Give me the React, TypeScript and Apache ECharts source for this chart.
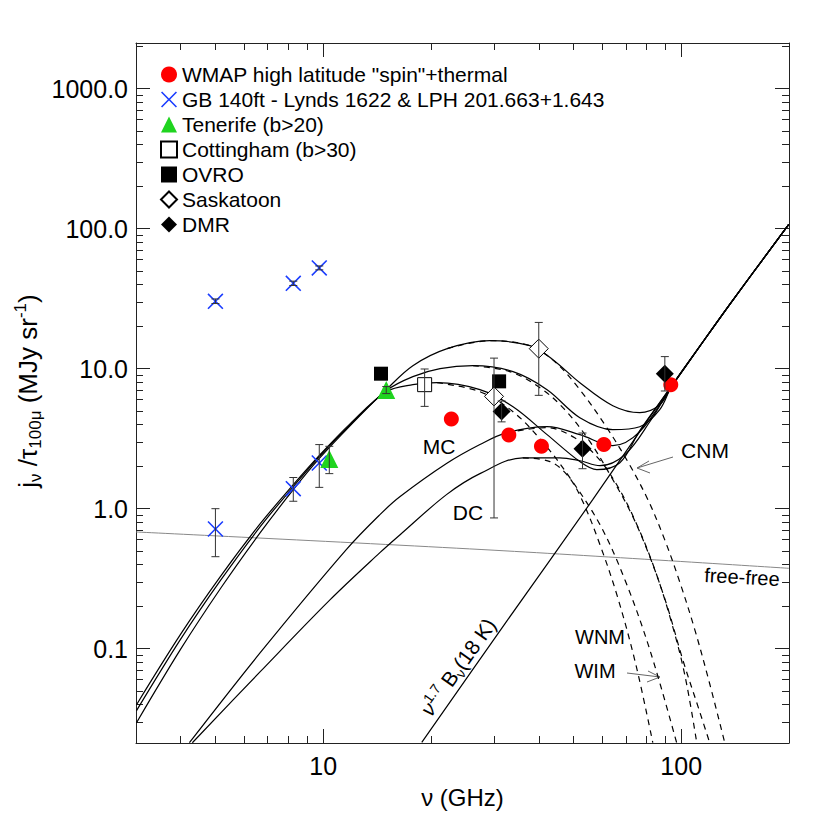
import React, { useEffect, useRef } from "react";
import * as echarts from "echarts";

const FONT = "'Liberation Sans', Arial, Helvetica, sans-serif";
const X_MIN = 3;
const X_MAX = 200;
const Y_MIN = 0.0212;
const Y_MAX = 2120;
const xMajor = [10, 100];
const xMinor = [4, 5, 6, 7, 8, 9, 20, 30, 40, 50, 60, 70, 80, 90];
const yMajor = [0.1, 1, 10, 100, 1000];
const yMinor = [0.03, 0.04, 0.05, 0.06, 0.07, 0.08, 0.09, 0.2, 0.3, 0.4, 0.5, 0.6, 0.7, 0.8, 0.9, 2, 3, 4, 5, 6, 7, 8, 9, 20, 30, 40, 50, 60, 70, 80, 90, 200, 300, 400, 500, 600, 700, 800, 900, 2000];

const legendNames = [
  'WMAP high latitude "spin"+thermal',
  "GB 140ft - Lynds 1622 & LPH 201.663+1.643",
  "Tenerife (b>20)",
  "Cottingham (b>30)",
  "OVRO",
  "Saskatoon",
  "DMR",
];

// measurements: [freq GHz, value]
const wmap = [[22.8, 4.37], [33.0, 3.36], [40.7, 2.79], [60.8, 2.87], [93.5, 7.69]];
const gb = [[5.0, 30.3], [8.25, 40.7], [9.75, 52.4], [5.0, 0.716], [8.25, 1.39], [9.75, 2.12]];
const gbErr = [[5.0, 29.2, 31.5], [8.25, 39.3, 42.2], [9.75, 50.8, 54.2], [5.0, 0.454, 1.0], [8.25, 1.13, 1.67], [9.75, 1.42, 2.87]];
const tenerife = [[10.4, 2.26], [15.0, 7.05]];
const tenerifeErr = [[10.4, 1.78, 2.79], [15.0, 6.64, 7.45]];
const cottingham = [[19.2, 7.69]];
const cottinghamErr = [[19.2, 5.38, 9.95]];
const ovro = [[14.5, 9.21], [31.0, 8.12]];
const saskatoon = [[30.0, 6.34], [40.0, 13.9]];
const saskatoonErr = [[30.0, 0.859, 11.9], [40.0, 6.45, 21.4]];
const dmr = [[31.5, 4.95], [53.0, 2.68], [90.0, 9.21]];
const dmrErr = [[31.5, 4.17, 5.88], [53.0, 1.93, 3.47], [90.0, 6.93, 12.2]];

// model curves: [freq GHz, value]
const thermal = [[18.85, 0.0214], [32.6, 0.158], [56.6, 1.16], [91.1, 6.74], [136.5, 28.7], [199.5, 106.8]];
const freeFree = [[3.0, 0.682], [30.0, 0.505], [200, 0.375]];
const totalA = [[3.01, 0.0296], [3.99, 0.0984], [5.16, 0.268], [6.67, 0.674], [8.25, 1.367], [9.74, 2.275], [11.9, 3.92], [15.0, 7.08], [17.8, 10.5], [22.2, 13.9], [29.2, 15.85], [37.8, 14.6], [43.8, 11.6], [52.1, 7.94], [64.4, 5.44], [76.6, 4.85], [87.1, 5.53], [94.1, 7.5], [112.6, 14.4], [136.5, 28.7], [199.5, 106.8]];
const totalB = [[3.01, 0.0361], [3.99, 0.116], [5.16, 0.306], [6.67, 0.744], [8.25, 1.436], [9.74, 2.35], [11.9, 3.98], [15.0, 6.96], [17.8, 8.77], [21.2, 10.0], [26.2, 10.5], [33.9, 9.52], [42.2, 7.08], [52.1, 4.47], [64.4, 3.67], [76.6, 3.85], [87.1, 5.1], [94.1, 7.5], [112.6, 14.4], [136.5, 28.7], [199.5, 106.8]];
const totalC = [[3.01, 0.0398], [3.99, 0.126], [5.16, 0.327], [6.67, 0.781], [8.25, 1.484], [9.74, 2.39], [11.9, 4.05], [15.0, 6.85], [17.8, 7.69], [20.8, 7.94], [27.4, 7.08], [33.9, 5.35], [42.2, 3.38], [52.1, 2.17], [58.1, 1.9], [67.4, 2.13], [76.6, 3.61], [94.1, 7.5], [112.6, 14.4], [136.5, 28.7], [199.5, 106.8]];
const totalMC = [[4.23, 0.0213], [6.67, 0.0936], [11.6, 0.51], [14.4, 0.906], [16.4, 1.22], [22.1, 2.1], [27.4, 2.87], [32.6, 3.49], [42.2, 3.85], [52.1, 3.38], [64.4, 2.82], [76.6, 3.55], [94.1, 7.5], [112.6, 14.4], [136.5, 28.7], [199.5, 106.8]];
const totalDC = [[4.31, 0.0213], [6.67, 0.0685], [10.46, 0.224], [14.4, 0.485], [16.4, 0.652], [22.1, 1.26], [27.4, 1.78], [36.1, 2.31], [45.8, 2.31], [52.1, 2.2], [59.3, 2.03], [69.6, 2.43], [81.7, 4.18], [94.1, 7.5], [112.6, 14.4], [136.5, 28.7], [199.5, 106.8]];
const spinA = [[22.2, 13.9], [29.2, 15.85], [37.8, 14.6], [44.4, 11.2], [52.1, 7.08], [61.2, 3.98], [70.9, 2.17], [80.7, 1.16], [89.9, 0.601], [99.0, 0.301], [109.1, 0.137], [120.1, 0.0562], [132.3, 0.0213]];
const spinB = [[26.2, 10.5], [33.2, 9.52], [40.3, 7.32], [47.3, 5.1], [55.6, 3.01], [64.0, 1.66], [72.8, 0.906], [81.7, 0.454], [91.1, 0.206], [101.0, 0.0834], [112.6, 0.0355], [120.1, 0.0213]];
const spinC = [[20.8, 7.94], [27.4, 6.85], [33.9, 4.93], [41.6, 2.87], [48.9, 1.66], [59.3, 0.769], [69.6, 0.311], [81.7, 0.0984], [97.1, 0.0213]];
const spinMC = [[32.6, 3.49], [42.2, 3.79], [50.4, 3.21], [58.5, 2.31], [66.5, 1.44], [75.2, 0.769], [84.4, 0.367], [93.5, 0.161], [102.3, 0.0652], [110.5, 0.0213]];
const spinDC = [[36.1, 2.31], [43.0, 2.17], [48.2, 1.72], [52.8, 1.16], [59.3, 0.553], [66.5, 0.231], [74.7, 0.0769], [83.3, 0.0213]];

const X_PATH = "path://M0,0.7 L0.7,0 L5,4.3 L9.3,0 L10,0.7 L5.7,5 L10,9.3 L9.3,10 L5,5.7 L0.7,10 L0,9.3 L4.3,5 Z";

function axisSet(kind: "x" | "y") {
  const min = kind === "x" ? X_MIN : Y_MIN;
  const max = kind === "x" ? X_MAX : Y_MAX;
  const major = kind === "x" ? xMajor : yMajor;
  const minor = kind === "x" ? xMinor : yMinor;
  const positions = kind === "x" ? ["bottom", "top"] : ["left", "right"];
  const out: any[] = [];
  positions.forEach((pos, pi) => {
    [true, false].forEach((isMajor) => {
      const axis: any = {
        type: "log",
        logBase: 10,
        min,
        max,
        position: pos,
        splitLine: { show: false },
        minorTick: { show: false },
        axisLine: { show: isMajor, lineStyle: { color: "#222", width: 1 } },
        axisTick: {
          show: true,
          inside: true,
          length: isMajor ? 14 : 7,
          customValues: isMajor ? major : minor,
          lineStyle: { color: "#222", width: 1 },
        },
        axisLabel: { show: false },
      };
      if (isMajor && pi === 0) {
        axis.axisLabel = {
          show: true,
          customValues: major,
          fontSize: 25,
          fontFamily: FONT,
          color: "#000",
          margin: kind === "x" ? 10 : 8,
          formatter: (v: number) => (kind === "x" ? String(Math.round(v)) : v.toFixed(1)),
        };
        if (kind === "x") {
          axis.name = "ν (GHz)";
          axis.nameLocation = "middle";
          axis.nameGap = 42;
          axis.nameTextStyle = { fontSize: 24, fontFamily: FONT, color: "#000" };
        }
      }
      out.push(axis);
    });
  });
  return out;
}

function scatter(name: string, data: number[][], symbol: string, size: number, itemStyle: any) {
  return {
    name,
    type: "scatter",
    xAxisIndex: 0,
    yAxisIndex: 0,
    data,
    symbol,
    symbolSize: size,
    itemStyle: { opacity: 1, ...itemStyle },
    z: 4,
  };
}

function curve(data: number[][], dashed: boolean, color = "#000", width = 1.2) {
  return {
    type: "line",
    xAxisIndex: 0,
    yAxisIndex: 0,
    data,
    showSymbol: false,
    symbol: "none",
    smooth: 0.35,
    silent: true,
    lineStyle: { color, width, type: dashed ? [6, 5] : "solid" },
    z: 2,
  };
}

export default function App() {
  const ref = useRef<HTMLDivElement>(null);
  useEffect(() => {
    if (!ref.current) return;
    const chart = echarts.init(ref.current, null, { renderer: "svg" });
    const errData = [...gbErr, ...tenerifeErr, ...cottinghamErr, ...saskatoonErr, ...dmrErr];
    const option: any = {
      animation: false,
      backgroundColor: "#fff",
      textStyle: { fontFamily: FONT },
      grid: { left: 136, top: 43, right: 41, bottom: 87, containLabel: false },
      xAxis: axisSet("x"),
      yAxis: axisSet("y"),
      legend: {
        show: true,
        orient: "vertical",
        left: 160,
        top: 64,
        padding: 0,
        itemWidth: 16,
        itemHeight: 16,
        itemGap: 4,
        selectedMode: false,
        data: legendNames,
        textStyle: { fontSize: 21, fontFamily: FONT, color: "#000" },
      },
      series: [
        curve(freeFree, false, "#888", 1),
        curve(thermal, false),
        curve(totalA, false),
        curve(totalB, false),
        curve(totalC, false),
        curve(totalMC, false),
        curve(totalDC, false),
        curve(spinA, true),
        curve(spinB, true),
        curve(spinC, true),
        curve(spinMC, true),
        curve(spinDC, true),
        scatter(legendNames[0], wmap, "circle", 15, { color: "#ff0000" }),
        scatter(legendNames[1], gb, X_PATH, 16, { color: "#1a3cff" }),
        scatter(legendNames[2], tenerife, "triangle", 18, { color: "#1fd41f" }),
        scatter(legendNames[3], cottingham, "rect", 14, { color: "#fff", borderColor: "#000", borderWidth: 1 }),
        scatter(legendNames[4], ovro, "rect", 14, { color: "#000" }),
        scatter(legendNames[5], saskatoon, "diamond", 19, { color: "#fff", borderColor: "#000", borderWidth: 1 }),
        scatter(legendNames[6], dmr, "diamond", 18, { color: "#000" }),
        {
          type: "custom",
          xAxisIndex: 0,
          yAxisIndex: 0,
          data: errData,
          encode: { x: 0, y: [1, 2] },
          z: 5,
          silent: true,
          renderItem: (params: any, api: any) => {
            const x = api.value(0);
            const p1 = api.coord([x, api.value(1)]);
            const p2 = api.coord([x, api.value(2)]);
            const st = { stroke: "#333", lineWidth: 1 };
            return {
              type: "group",
              children: [
                { type: "line", shape: { x1: p1[0], y1: p1[1], x2: p2[0], y2: p2[1] }, style: st },
                { type: "line", shape: { x1: p1[0] - 4, y1: p1[1], x2: p1[0] + 4, y2: p1[1] }, style: st },
                { type: "line", shape: { x1: p2[0] - 4, y1: p2[1], x2: p2[0] + 4, y2: p2[1] }, style: st },
              ],
            };
          },
        },
      ],
      graphic: [
        {
          type: "text",
          x: 28,
          y: 391,
          rotation: Math.PI / 2,
          style: {
            text: "{b|j}{sub|ν}{b| /τ}{sub|100μ}{b| (MJy sr}{sup|-1}{b|)}",
            align: "center",
            verticalAlign: "middle",
            fill: "#000",
            rich: {
              b: { fontSize: 26, fontFamily: FONT, lineHeight: 32, verticalAlign: "middle", fill: "#000" },
              sub: { fontSize: 17, fontFamily: FONT, lineHeight: 17, verticalAlign: "bottom", fill: "#000" },
              sup: { fontSize: 17, fontFamily: FONT, lineHeight: 17, verticalAlign: "top", fill: "#000" },
            },
          },
        },
        { type: "text", x: 439, y: 446, style: { text: "MC", font: `21px ${FONT}`, fill: "#000", align: "center", verticalAlign: "middle" } },
        { type: "text", x: 468, y: 512, style: { text: "DC", font: `21px ${FONT}`, fill: "#000", align: "center", verticalAlign: "middle" } },
        { type: "text", x: 705, y: 450, style: { text: "CNM", font: `21px ${FONT}`, fill: "#000", align: "center", verticalAlign: "middle" } },
        { type: "text", x: 742, y: 577, rotation: -0.055, style: { text: "free-free", font: `20px ${FONT}`, fill: "#000", align: "center", verticalAlign: "middle" } },
        { type: "text", x: 600, y: 637, style: { text: "WNM", font: `20px ${FONT}`, fill: "#000", align: "center", verticalAlign: "middle" } },
        { type: "text", x: 595, y: 671, style: { text: "WIM", font: `20px ${FONT}`, fill: "#000", align: "center", verticalAlign: "middle" } },
        {
          type: "text",
          x: 458,
          y: 667,
          rotation: 0.955,
          style: {
            text: "{i|ν}{sup|1.7}{b| B}{sub|ν}{b|(18 K)}",
            align: "center",
            verticalAlign: "middle",
            fill: "#000",
            rich: {
              i: { fontSize: 21, fontFamily: FONT, fontStyle: "italic", lineHeight: 26, verticalAlign: "middle", fill: "#000" },
              b: { fontSize: 21, fontFamily: FONT, lineHeight: 26, verticalAlign: "middle", fill: "#000" },
              sub: { fontSize: 14, fontFamily: FONT, lineHeight: 14, verticalAlign: "bottom", fill: "#000" },
              sup: { fontSize: 14, fontFamily: FONT, lineHeight: 14, verticalAlign: "top", fill: "#000" },
            },
          },
        },
        { type: "polyline", shape: { points: [[673, 457], [637, 468]] }, style: { stroke: "#666", lineWidth: 1, fill: "none" } },
        { type: "polyline", shape: { points: [[649, 461], [637, 468], [650, 473]] }, style: { stroke: "#666", lineWidth: 1, fill: "none" } },
        { type: "polyline", shape: { points: [[627, 673], [660, 677]] }, style: { stroke: "#666", lineWidth: 1, fill: "none" } },
        { type: "polyline", shape: { points: [[648, 671], [660, 677], [647, 682]] }, style: { stroke: "#666", lineWidth: 1, fill: "none" } },
      ],
    };
    chart.setOption(option);
    return () => chart.dispose();
  }, []);
  return <div ref={ref} style={{ position: "absolute", left: 0, top: 0, width: 830, height: 830 }} />;
}
